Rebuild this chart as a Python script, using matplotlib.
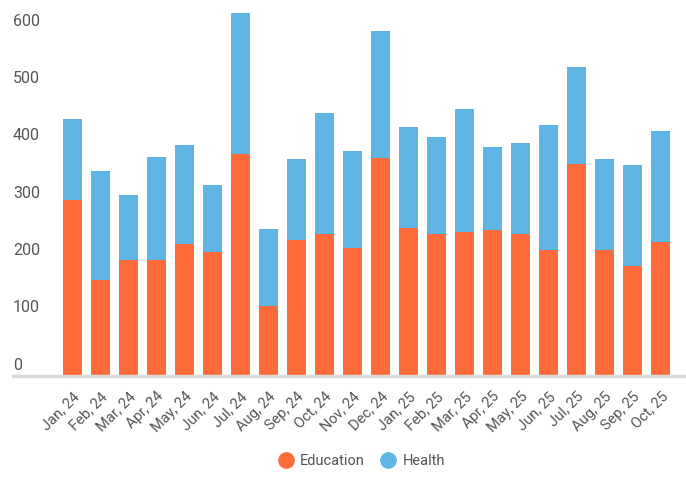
import matplotlib
matplotlib.use("Agg")
import matplotlib.pyplot as plt
from matplotlib import font_manager
from matplotlib.lines import Line2D

names = {f.name for f in font_manager.fontManager.ttflist}
FONT = "Liberation Sans Narrow" if "Liberation Sans Narrow" in names else "Roboto"
plt.rcParams['font.family'] = [FONT, 'DejaVu Sans']

categories = ["Jan, 24", "Feb, 24", "Mar, 24", "Apr, 24", "May, 24", "Jun, 24",
              "Jul, 24", "Aug, 24", "Sep, 24", "Oct, 24", "Nov, 24", "Dec, 24",
              "Jan, 25", "Feb, 25", "Mar, 25", "Apr, 25", "May, 25", "Jun, 25",
              "Jul, 25", "Aug, 25", "Sep, 25", "Oct, 25"]
education = [307, 167, 202, 202, 230, 216, 387, 121, 237, 247, 223, 380,
             258, 247, 251, 254, 247, 219, 369, 219, 191, 233]
health = [141, 190, 113, 180, 172, 117, 246, 135, 141, 211, 169, 222,
          176, 169, 214, 145, 159, 218, 170, 159, 177, 194]
y_ticks = [0, 100, 200, 300, 400, 500, 600]

ORANGE = "#FE6A39"
BLUE = "#5FB6E5"
TXT = "#555555"

W, H = 686, 497
fig = plt.figure(figsize=(W / 100, H / 100), dpi=100)
left_px, right_px, base_px, top_px = 13, 686, 375.5, 10
ax = fig.add_axes([left_px / W, 1 - base_px / H, (right_px - left_px) / W, (base_px - top_px) / H])

x = list(range(len(categories)))
ax.bar(x, education, width=0.68, color=ORANGE, zorder=2)
ax.bar(x, health, width=0.68, bottom=education, color=BLUE, zorder=2)

pitch = 28.0
c0 = 72.5
ax.set_xlim((left_px - c0) / pitch, (right_px - c0) / pitch)
ax.set_ylim(0, (base_px - top_px) / 0.5725)

for s in ["top", "right", "left"]:
    ax.spines[s].set_visible(False)
ax.spines["bottom"].set_color("#d9d9d9")
ax.spines["bottom"].set_linewidth(2.5)
ax.set_yticks([])
ax.set_xticks(x)
ax.set_xticklabels(categories, rotation=45, ha="right", va="top",
                   rotation_mode="anchor", fontsize=10.5, color=TXT)
ax.tick_params(axis="x", length=0, pad=10)

for v in y_ticks:
    ax.annotate(str(v), xy=(0, v), xycoords=("axes fraction", "data"),
                xytext=(0, 10.5), textcoords="offset pixels",
                ha="left", va="center", fontsize=11.5, color=TXT)

handles = [Line2D([], [], marker="o", linestyle="", markersize=11,
                  markerfacecolor=ORANGE, markeredgecolor=ORANGE),
           Line2D([], [], marker="o", linestyle="", markersize=11,
                  markerfacecolor=BLUE, markeredgecolor=BLUE)]
fig.legend(handles, ["Education", "Health"], loc="center",
           bbox_to_anchor=(361 / W, 1 - 461 / H), ncol=2, frameon=False,
           fontsize=10.5, labelcolor=TXT, handletextpad=0.4, columnspacing=1.0,
           handlelength=1.2)

fig.savefig("out.png", dpi=100)
